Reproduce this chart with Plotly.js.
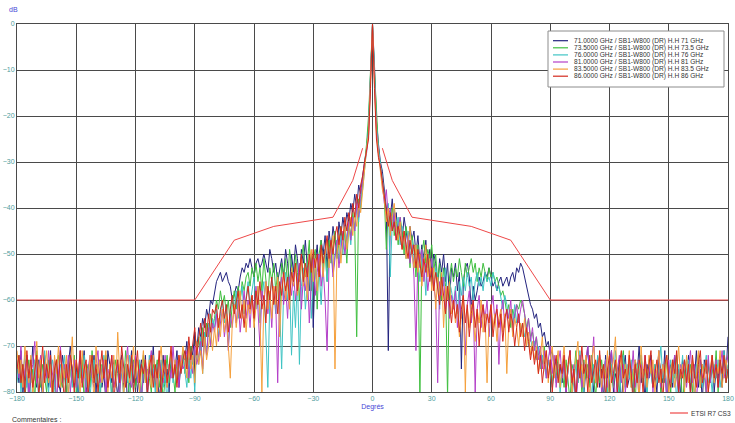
<!DOCTYPE html>
<html><head><meta charset="utf-8">
<script src="https://cdn.plot.ly/plotly-3.0.1.min.js"></script>
<style>html,body{margin:0;padding:0;background:#fff}#chart{width:735px;height:423px}</style>
</head><body><div id="chart"></div>
<script>
// Angle grid: -180 .. 180 deg, 1 deg step
const startAngle = -180;
const stepAngle = 1;

const seriesNames = [
  "71.0000 GHz / SB1-W800 (DR) H.H 71 GHz",
  "73.5000 GHz / SB1-W800 (DR) H.H 73.5 GHz",
  "76.0000 GHz / SB1-W800 (DR) H.H 76 GHz",
  "81.0000 GHz / SB1-W800 (DR) H.H 81 GHz",
  "83.5000 GHz / SB1-W800 (DR) H.H 83.5 GHz",
  "86.0000 GHz / SB1-W800 (DR) H.H 86 GHz"
];

const gain71 = [
-74,-78,-71,-80,-76,-72,-83,-75,-70,-77,
-79,-73,-76,-82,-72,-75,-79,-71,-84,-76,
-73,-78,-80,-72,-75,-81,-74,-70,-77,-79,
-75,-82,-73,-76,-71,-78,-85,-74,-77,-72,
-80,-75,-73,-79,-76,-82,-71,-74,-78,-73,
-77,-81,-75,-72,-79,-74,-83,-76,-71,-78,
-74,-80,-76,-73,-78,-72,-81,-75,-77,-70,
-79,-74,-82,-76,-72,-78,-75,-80,-73,-77,
-75,-71,-79,-74,-72,
-73,-69,-75,-70,-72,-67,-71,-66,-68,-64,-66,-62,-64,-60,-61,
-58,-56,-55,-54,-56,-55,-54,-56,-57,-60,
-59,-57,-58,-55,-53,-54,-52,-53,-51,-53,
-55,-52,-51,-53,-52,-50,-52,-54,-49,-51,
-54,-52,-56,-53,-51,-55,-49,-52,-57,-50,
-54,-48,-51,-56,-49,-52,-47,-53,-58,-50,
-66,-52,-48,-55,-47,-50,-46,-53,-45,-49,
-44,-47,-50,-43,-46,-42,-45,-41,-43,-39,
-41,-37,-40,-35,-37,
-33,-30,-27,-22,-9,0,-9,-21,-26,-30,-32,
-36,-40,-71,-42,-38,-44,-41,-46,-43,-47,
-42,-45,-48,-44,-47,-45,-50,-46,-52,-48,
-51,-47,-53,-49,-55,-50,-52,-57,-51,-54,
-50,-56,-52,-60,-53,
-55,-52,-58,-54,-75,-56,-53,-52,-55,-62,
-57,-60,-58,-55,-57,-56,-54,-55,-53,-55,
-57,-56,-58,-56,-55,-57,-56,-55,-57,-55,
-54,-56,-53,-54,-52,-53,-55,-57,-59,-61,
-62,-64,-63,-66,-65,-68,-67,-70,-69,-72,-71,-75,-73,-77,-74,
-78,-73,-80,-75,-71,-79,-76,-83,-74,-72,
-77,-81,-75,-70,-78,-74,-80,-76,-73,-79,
-75,-82,-72,-77,-74,-71,-80,-76,-78,-73,
-84,-75,-72,-79,-77,-74,-81,-73,-76,-70,
-78,-75,-82,-74,-77,-72,-79,-76,-80,-73,
-75,-78,-71,-83,-76,-74,-79,-72,-77,-75,
-81,-73,-76,-78,-72,-80,-74,-77,-71,-79,
-75,-82,-73,-76,-74,-78,-72,-80,-75,-77,
-73,-79,-71,-76,-68
];

const gain73_5 = [
-76,-72,-79,-74,-81,-77,-73,-78,-75,-82,
-71,-76,-79,-74,-77,-80,-73,-75,-78,-84,
-74,-72,-77,-79,-75,-81,-73,-76,-78,-72,
-80,-75,-77,-73,-82,-76,-74,-79,-71,-77,
-75,-78,-83,-74,-76,-72,-79,-75,-81,-77,
-73,-76,-80,-74,-78,-71,-77,-82,-75,-73,
-79,-76,-74,-81,-72,-78,-75,-77,-80,-74,
-76,-73,-79,-75,-82,-77,-72,-78,-74,-76,
-80,-73,-77,-75,-71,
-76,-72,-78,-70,-74,-71,-73,-68,-72,-66,-70,-65,-68,-63,-66,
-64,-60,-62,-58,-61,-59,-63,-60,-66,-61,
-58,-62,-57,-60,-56,-58,-55,-54,-57,-53,
-55,-52,-56,-53,-58,-51,-55,-60,-53,-56,
-52,-58,-54,-63,-52,-55,-51,-57,-49,-53,
-56,-50,-54,-60,-51,-48,-55,-52,-47,-58,
-51,-49,-62,-50,-47,-53,-49,-56,-47,-52,
-48,-45,-51,-47,-44,-49,-45,-52,-43,-46,
-41,-44,-68,-38,-40,
-35,-31,-26,-20,-10,0,-10,-19,-27,-31,-34,
-38,-49,-41,-44,-40,-46,-43,-48,-42,-45,
-50,-44,-47,-53,-46,-49,-55,-48,-82,-50,
-47,-52,-49,-51,-48,-54,-50,-56,-52,-60,
-53,-57,-81,-55,-52,
-56,-53,-55,-51,-54,-57,-52,-55,-53,-51,
-54,-52,-56,-53,-55,-52,-54,-56,-53,-55,
-54,-56,-55,-57,-59,-58,-60,-63,-61,-66,
-62,-64,-61,-62,-60,-61,-63,-66,-64,-68,
-67,-70,-68,-72,-71,-74,-70,-76,-73,-75,-78,-74,-77,-72,-79,
-75,-79,-73,-77,-82,-74,-76,-71,-78,-75,
-80,-73,-77,-74,-79,-72,-76,-81,-75,-78,
-73,-77,-75,-83,-72,-76,-79,-74,-77,-80,
-74,-71,-78,-76,-73,-79,-75,-82,-74,-77,
-72,-78,-75,-80,-73,-76,-79,-74,-77,-71,
-81,-75,-78,-73,-76,-80,-74,-77,-72,-79,
-75,-83,-76,-73,-78,-74,-80,-75,-77,-72,
-79,-74,-76,-81,-73,-78,-75,-77,-71,-80,
-74,-76,-72,-78,-75
];

const gain76 = [
-78,-74,-80,-76,-72,-79,-75,-83,-77,-73,
-76,-81,-74,-78,-71,-77,-80,-75,-73,-79,
-82,-76,-74,-78,-72,-77,-80,-75,-79,-73,
-76,-84,-74,-77,-72,-79,-75,-81,-76,-73,
-78,-74,-80,-77,-72,-76,-79,-75,-82,-74,
-77,-73,-79,-76,-81,-74,-78,-72,-76,-80,
-75,-77,-73,-82,-76,-74,-79,-72,-78,-75,
-80,-74,-77,-73,-79,-76,-83,-75,-72,-78,
-74,-77,-73,-76,-72,
-75,-79,-73,-77,-72,-80,-70,-74,-68,-76,-67,-72,-65,-70,-64,
-66,-62,-68,-63,-60,-65,-61,-70,-63,-59,
-62,-58,-64,-60,-57,-63,-59,-56,-61,-58,
-55,-62,-57,-65,-59,-56,-68,-79,-60,-55,
-58,-63,-56,-61,-75,-58,-54,-60,-56,-72,
-58,-66,-55,-74,-57,-53,-62,-56,-52,-64,
-55,-51,-58,-54,-61,-52,-49,-56,-51,-48,
-54,-50,-47,-52,-46,-50,-44,-47,-43,-48,
-42,-45,-40,-43,-38,
-36,-32,-28,-23,-11,0,-11,-22,-27,-30,-33,
-37,-42,-39,-55,-43,-40,-45,-42,-48,-44,
-46,-51,-45,-49,-47,-53,-48,-51,-56,-49,
-52,-59,-50,-54,-51,-57,-53,-55,-62,-54,
-57,-53,-60,-56,-58,
-61,-57,-63,-56,-59,-55,-58,-54,-57,-55,
-60,-56,-54,-57,-55,-58,-54,-56,-55,-57,
-54,-56,-58,-57,-60,-62,-59,-61,-64,-62,
-66,-61,-65,-63,-67,-65,-68,-66,-70,-68,
-71,-69,-73,-70,-75,-72,-74,-77,-73,-76,-79,-74,-78,-75,-80,
-76,-73,-79,-75,-72,-81,-77,-74,-78,-71,
-76,-80,-73,-77,-75,-82,-74,-78,-72,-76,
-79,-75,-73,-80,-77,-74,-78,-71,-76,-83,
-75,-72,-79,-74,-77,-73,-80,-76,-74,-78,
-72,-77,-75,-81,-73,-76,-79,-74,-78,-75,
-70,-77,-74,-80,-76,-73,-78,-75,-82,-74,
-77,-72,-79,-75,-73,-78,-76,-81,-74,-77,
-73,-79,-75,-72,-78,-76,-80,-74,-77,-73,
-79,-75,-71,-77,-74
];

const gain81 = [
-73,-77,-70,-79,-75,-72,-81,-76,-74,-69,
-78,-75,-72,-80,-74,-77,-71,-79,-76,-73,
-82,-75,-70,-78,-74,-77,-72,-80,-75,-73,
-79,-76,-71,-78,-74,-83,-75,-72,-77,-79,
-74,-71,-78,-76,-73,-80,-75,-77,-72,-79,
-76,-74,-81,-73,-78,-75,-70,-77,-79,-74,
-72,-78,-75,-82,-76,-73,-79,-74,-71,-77,
-75,-80,-73,-76,-78,-72,-79,-74,-77,-70,
-76,-73,-79,-72,-75,
-74,-71,-77,-73,-76,-70,-74,-72,-69,-75,-68,-72,-66,-70,-65,
-67,-63,-69,-65,-62,-68,-64,-71,-63,-66,
-61,-65,-60,-67,-62,-58,-64,-60,-66,-59,
-63,-57,-62,-70,-58,-61,-56,-63,-59,-66,
-57,-60,-78,-58,-55,-61,-57,-64,-55,-59,
-54,-60,-56,-52,-62,-55,-58,-53,-65,-56,
-51,-59,-54,-50,-57,-53,-60,-71,-52,-49,
-55,-51,-47,-53,-49,-45,-50,-46,-43,-47,
-42,-45,-39,-42,-37,
-34,-30,-28,-24,-12,0,-12,-23,-28,-31,-35,
-39,-36,-42,-40,-45,-41,-47,-44,-42,-48,
-45,-50,-46,-52,-48,-55,-71,-50,-53,-49,
-56,-52,-58,-54,-51,-57,-60,-78,-56,-59,
-55,-62,-57,-64,-59,
-62,-58,-66,-60,-64,-59,-72,-61,-58,-65,
-60,-80,-62,-59,-66,-61,-64,-60,-68,-62,
-59,-65,-61,-74,-63,-60,-66,-62,-64,-60,
-67,-63,-61,-65,-62,-60,-63,-67,-64,-69,
-66,-71,-68,-73,-70,-75,-71,-77,-73,-70,-76,-72,-79,-74,-71,
-77,-73,-80,-75,-71,-78,-74,-82,-76,-72,
-79,-75,-73,-70,-77,-74,-68,-78,-75,-72,
-80,-76,-73,-79,-74,-71,-77,-83,-75,-72,
-78,-74,-80,-76,-73,-77,-71,-79,-75,-82,
-74,-77,-72,-78,-76,-73,-80,-75,-77,-71,
-79,-74,-76,-81,-73,-78,-75,-72,-77,-80,
-74,-76,-73,-79,-75,-71,-78,-74,-82,-76,
-73,-77,-75,-80,-72,-78,-74,-76,-73,-79,
-75,-71,-77,-74,-72
];

const gain83_5 = [
-71,-76,-73,-79,-70,-75,-78,-72,-81,-74,
-69,-77,-73,-80,-75,-71,-78,-74,-83,-72,
-76,-70,-79,-74,-77,-72,-81,-75,-68,-78,
-73,-76,-80,-71,-77,-74,-79,-72,-75,-82,
-70,-76,-73,-78,-75,-71,-80,-74,-77,-72,
-79,-67,-76,-73,-81,-75,-72,-78,-74,-70,
-77,-73,-80,-75,-71,-78,-76,-73,-79,-72,
-75,-81,-74,-70,-77,-73,-79,-75,-71,-76,
-73,-78,-72,-75,-70,
-73,-77,-70,-75,-72,-78,-69,-74,-71,-76,-68,-73,-70,-66,-71,
-66,-70,-64,-68,-62,-67,-63,-70,-77,-65,
-61,-66,-62,-58,-64,-60,-67,-61,-63,-59,
-66,-61,-57,-63,-80,-60,-56,-62,-58,-64,
-57,-61,-55,-68,-58,-54,-60,-56,-62,-53,
-57,-52,-59,-55,-51,-57,-53,-60,-52,-49,
-56,-51,-58,-53,-49,-55,-50,-47,-53,-49,
-46,-75,-50,-46,-52,-47,-44,-49,-45,-42,
-46,-41,-44,-39,-41,
-36,-31,-27,-24,-13,0,-13,-24,-28,-32,-36,
-38,-43,-40,-46,-42,-39,-44,-47,-43,-49,
-45,-51,-47,-44,-50,-53,-48,-54,-50,-57,
-52,-48,-55,-51,-58,-53,-62,-55,-59,-54,
-66,-57,-60,-56,-63,
-60,-65,-61,-68,-63,-59,-80,-62,-66,-61,
-64,-69,-62,-65,-60,-67,-63,-78,-64,-61,
-66,-63,-69,-64,-62,-67,-63,-76,-65,-62,
-68,-64,-66,-70,-65,-68,-64,-70,-67,-72,
-69,-73,-70,-76,-72,-68,-75,-71,-78,-73,-70,-77,-74,-71,-79,
-74,-70,-78,-75,-72,-80,-76,-73,-69,-77,
-74,-79,-72,-76,-81,-73,-70,-78,-75,-72,
-79,-74,-77,-71,-83,-76,-73,-68,-78,-75,
-72,-80,-74,-77,-71,-79,-76,-73,-75,-82,
-70,-77,-74,-79,-72,-76,-73,-80,-75,-71,
-78,-74,-77,-72,-81,-75,-73,-79,-76,-70,
-77,-74,-80,-72,-78,-75,-73,-82,-76,-71,
-79,-74,-77,-73,-80,-75,-72,-78,-74,-76,
-71,-79,-75,-73,-77
];

const gain86 = [
-75,-72,-78,-74,-80,-71,-77,-73,-79,-76,
-72,-81,-75,-70,-78,-74,-77,-72,-80,-75,
-73,-79,-71,-76,-82,-74,-78,-72,-75,-80,
-73,-77,-71,-79,-75,-73,-81,-76,-72,-78,
-74,-80,-75,-71,-77,-73,-79,-75,-72,-83,
-76,-73,-78,-70,-75,-79,-74,-77,-72,-80,
-75,-71,-78,-74,-76,-73,-81,-75,-72,-79,
-74,-77,-71,-80,-76,-73,-78,-75,-70,-77,
-74,-79,-72,-76,-73,
-71,-75,-68,-73,-70,-66,-72,-68,-65,-70,-64,-68,-63,-67,-62,
-63,-61,-66,-62,-60,-64,-61,-67,-62,-59,
-63,-60,-58,-64,-61,-66,-60,-57,-62,-59,
-64,-58,-61,-56,-62,-59,-65,-57,-60,-55,
-61,-57,-63,-56,-59,-54,-58,-55,-60,-54,
-56,-52,-58,-54,-50,-56,-52,-55,-50,-54,
-49,-53,-50,-55,-48,-52,-49,-46,-51,-47,
-50,-46,-44,-48,-44,-47,-42,-45,-41,-44,
-39,-42,-37,-40,-35,
-33,-30,-27,-25,-14,0,-14,-25,-29,-31,-34,
-37,-40,-44,-41,-45,-43,-47,-44,-46,-49,
-45,-48,-51,-47,-50,-48,-53,-49,-52,-55,
-51,-54,-50,-56,-53,-58,-54,-57,-61,-55,
-59,-63,-57,-61,-65,
-60,-64,-61,-67,-62,-59,-65,-61,-68,-63,
-60,-66,-62,-70,-64,-61,-67,-63,-65,-61,
-68,-64,-62,-66,-63,-69,-64,-62,-67,-63,
-65,-70,-66,-63,-68,-65,-71,-66,-69,-73,
-70,-74,-71,-76,-72,-78,-74,-71,-77,-73,-80,-75,-72,-78,-74,
-76,-72,-79,-74,-71,-78,-75,-82,-73,-77,
-70,-76,-74,-80,-72,-78,-75,-73,-79,-71,
-77,-74,-81,-75,-72,-78,-76,-73,-80,-74,
-71,-77,-75,-79,-72,-76,-83,-74,-78,-73,
-75,-80,-72,-77,-74,-71,-79,-76,-73,-78,
-75,-82,-74,-72,-77,-79,-73,-76,-71,-80,
-75,-77,-73,-78,-74,-81,-72,-76,-79,-74,
-71,-78,-75,-73,-80,-76,-72,-77,-74,-79,
-73,-76,-72,-78,-75
];

// ETSI R7 CS3 mask
const maskName = "ETSI R7 CS3";
const maskAngles = [-180,-90,-70,-50,-20,-10,-5,null,5,10,20,50,70,90,180];
const maskValues = [-60,-60,-47,-44,-42,-34,-27,null,-27,-34,-42,-44,-47,-60,-60];

const seriesData = [gain71, gain73_5, gain76, gain81, gain83_5, gain86];
const seriesColors = ["#23237e", "#3fbf3f", "#3fc4c4", "#b43fc8", "#f5a03c", "#d42a1e"];
const maskColor = "#ee4848";

// layout geometry (pixels)
const W = 735, H = 423, mL = 17, mR = 7, mT = 24, mB = 31;
const plotW = W - mL - mR, plotH = H - mT - mB;
const px = x => (x - mL) / plotW;
const py = y => (H - mB - y) / plotH;

const traces = seriesData.map((arr, i) => ({
  type: "scatter", mode: "lines", name: seriesNames[i],
  x0: startAngle, dx: stepAngle, y: arr,
  line: {color: seriesColors[i], width: 1},
  hoverinfo: "skip", showlegend: false
}));
traces.push({
  type: "scatter", mode: "lines", name: maskName,
  x: maskAngles, y: maskValues, connectgaps: false,
  line: {color: maskColor, width: 1},
  hoverinfo: "skip", showlegend: false
});

const fontFam = "Liberation Sans, Arial, sans-serif";
const tickColor = "#4f9c9c";
const blue = "#4747d6";

const shapes = [];
const annotations = [];
// main legend box
shapes.push({type: "rect", xref: "paper", yref: "paper", x0: px(548), x1: px(724), y0: py(87), y1: py(31),
  fillcolor: "#ffffff", line: {color: "#8c8c8c", width: 1}, layer: "above"});
seriesNames.forEach((n, i) => {
  const yy = 40.7 + 7.1 * i;
  shapes.push({type: "line", xref: "paper", yref: "paper", x0: px(553), x1: px(568), y0: py(yy), y1: py(yy),
    line: {color: seriesColors[i], width: 1.2}, layer: "above"});
  annotations.push({xref: "paper", yref: "paper", x: px(572), y: py(yy), xanchor: "left", yanchor: "middle",
    text: n, showarrow: false, font: {family: fontFam, size: 6.6, color: "#333333"}});
});
// mask legend bottom right
shapes.push({type: "line", xref: "paper", yref: "paper", x0: px(670), x1: px(688), y0: py(413), y1: py(413),
  line: {color: maskColor, width: 1.2}});
annotations.push({xref: "paper", yref: "paper", x: px(733), y: py(413), xanchor: "right", yanchor: "middle",
  text: maskName, showarrow: false, font: {family: fontFam, size: 6.6, color: "#333333"}});
annotations.push({xref: "paper", yref: "paper", x: px(10), y: py(419), xanchor: "left", yanchor: "middle",
  text: "Commentaires :", showarrow: false, font: {family: fontFam, size: 7, color: "#333333"}});
annotations.push({xref: "paper", yref: "paper", x: px(13), y: py(10), xanchor: "center", yanchor: "middle",
  text: "dB", showarrow: false, font: {family: fontFam, size: 7, color: blue}});

const axisCommon = {
  showgrid: true, gridcolor: "#4a4a4a", gridwidth: 1, zeroline: false,
  showline: true, linecolor: "#4a4a4a", linewidth: 1, mirror: true,
  ticks: "", tickfont: {family: fontFam, size: 7, color: tickColor}, automargin: false, fixedrange: true
};

const layout = {
  width: W, height: H,
  margin: {l: mL, r: mR, t: mT, b: mB, pad: 0},
  paper_bgcolor: "#ffffff", plot_bgcolor: "#ffffff",
  showlegend: false,
  xaxis: Object.assign({}, axisCommon, {range: [-180, 180], tick0: -180, dtick: 30,
    title: {text: "Degrés", font: {family: fontFam, size: 7, color: blue}, standoff: 2}}),
  yaxis: Object.assign({}, axisCommon, {range: [-80, 0], tick0: 0, dtick: 10}),
  shapes: shapes, annotations: annotations
};

Plotly.newPlot("chart", traces, layout, {staticPlot: true, displayModeBar: false});
</script>
</body></html>
